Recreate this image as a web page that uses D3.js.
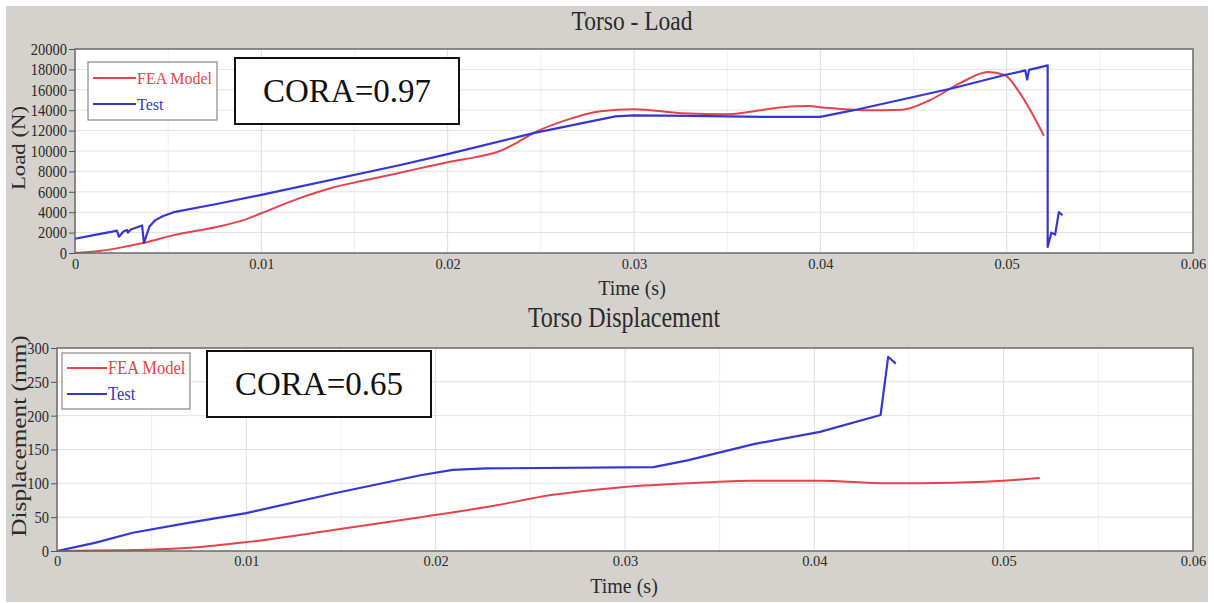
<!DOCTYPE html>
<html>
<head>
<meta charset="utf-8">
<script src="https://cdn.jsdelivr.net/npm/d3@7"></script>
<style>
  body { margin: 0; background: #fff; }
  svg { display: block; font-family: "Liberation Serif", "DejaVu Serif", serif; }
</style>
</head>
<body>
<svg id="chart" width="1214" height="603"></svg>
<script>
// time ticks shared by both panels
var timeTicks = [0, 0.01, 0.02, 0.03, 0.04, 0.05, 0.06];
var timeTickLabels = ["0", "0.01", "0.02", "0.03", "0.04", "0.05", "0.06"];

// Torso - Load
var loadTicks = [0, 2000, 4000, 6000, 8000, 10000, 12000, 14000, 16000, 18000, 20000];
var loadFeaT = [0, 0.0013, 0.0025, 0.0037, 0.0053, 0.0076, 0.009, 0.01, 0.0121, 0.0138, 0.0155, 0.0174, 0.02, 0.0215, 0.0228, 0.0237, 0.0246, 0.0264, 0.0282, 0.03, 0.0326, 0.035, 0.038, 0.0394, 0.04, 0.0423, 0.0444, 0.0459, 0.0475, 0.049, 0.0499, 0.0507, 0.052];
var loadFeaV = [0, 200, 550, 1000, 1750, 2550, 3200, 3900, 5400, 6400, 7100, 7850, 8900, 9400, 10000, 10800, 11750, 13050, 13900, 14100, 13700, 13600, 14300, 14400, 14300, 14000, 14050, 15000, 16650, 17750, 17450, 15700, 11500];
var loadTestT = [0, 0.001, 0.002, 0.00225, 0.00236, 0.0026, 0.0028, 0.00284, 0.003, 0.0036, 0.0037, 0.004, 0.0043, 0.0047, 0.0053, 0.0076, 0.01, 0.0174, 0.02, 0.0246, 0.029, 0.03, 0.033, 0.037, 0.04, 0.0418, 0.0471, 0.0499, 0.051, 0.0511, 0.0512, 0.0522, 0.0522, 0.0524, 0.0526, 0.0528, 0.053];
var loadTestV = [1400, 1750, 2100, 2200, 1600, 2100, 2250, 2000, 2300, 2700, 1000, 2600, 3200, 3600, 4000, 4800, 5700, 8600, 9700, 11750, 13400, 13500, 13450, 13350, 13350, 14000, 16150, 17450, 17900, 17000, 17950, 18400, 600, 2000, 1800, 4000, 3700];

// Torso Displacement
var dispTicks = [0, 50, 100, 150, 200, 250, 300];
var dispFeaT = [0, 0.003, 0.0058, 0.0076, 0.01, 0.0146, 0.0192, 0.0227, 0.0262, 0.0297, 0.0333, 0.0368, 0.0403, 0.0438, 0.0473, 0.05, 0.0519];
var dispFeaV = [0, 1, 3, 6, 13, 31, 50, 65, 83, 94, 100, 104, 104, 100, 101, 104, 108];
var dispTestT = [0, 0.002, 0.004, 0.007, 0.01, 0.0146, 0.0192, 0.0209, 0.0227, 0.0315, 0.0333, 0.0368, 0.0403, 0.0435, 0.0439, 0.0443];
var dispTestV = [0, 12, 27, 42, 56, 85, 112, 120, 122, 124, 134, 158, 176, 201, 287, 277];

var seriesNames = ["FEA Model", "Test"];
var feaColor = "#e4434c";
var testColor = "#3636d0";
var textColor = "#2a2a2a";

var svg = d3.select("#chart");

svg.append("rect")
    .attr("x", 6).attr("y", 6)
    .attr("width", 1202).attr("height", 596)
    .attr("fill", "#d5d2cd");

function zip(ts, vs) {
    return ts.map(function (t, i) { return [t, vs[i]]; });
}

// the screenshot is a bit taller than wide, so text gets stretched
function label(g, x, y, txt, size, sx, sy, rot) {
    return g.append("text")
        .attr("transform", "translate(" + x + "," + y + ")" + (rot ? " rotate(-90)" : "") +
            " scale(" + sx + "," + sy + ")")
        .attr("font-size", size).attr("fill", textColor)
        .text(txt);
}

function drawPanel(p) {
    var x = d3.scaleLinear().domain([0, 0.06]).range([p.left, p.right]);
    var y = d3.scaleLinear().domain([0, p.yMax]).range([p.bottom, p.top]);
    var g = svg.append("g");

    g.append("rect")
        .attr("x", p.left).attr("y", p.top)
        .attr("width", p.right - p.left).attr("height", p.bottom - p.top)
        .attr("fill", "#fff");

    // minor vertical grid
    var minor = d3.range(0.005, 0.06, 0.01);
    g.selectAll(".vminor").data(minor).enter().append("line")
        .attr("x1", function (d) { return x(d); }).attr("x2", function (d) { return x(d); })
        .attr("y1", p.top).attr("y2", p.bottom)
        .attr("stroke", "#efefef").attr("stroke-width", 1);
    g.selectAll(".vmajor").data(timeTicks.slice(1, -1)).enter().append("line")
        .attr("x1", function (d) { return x(d); }).attr("x2", function (d) { return x(d); })
        .attr("y1", p.top).attr("y2", p.bottom)
        .attr("stroke", "#dcdcdc").attr("stroke-width", 1);
    g.selectAll(".hgrid").data(p.yTicks.slice(1, -1)).enter().append("line")
        .attr("x1", p.left).attr("x2", p.right)
        .attr("y1", function (d) { return y(d); }).attr("y2", function (d) { return y(d); })
        .attr("stroke", "#e2e2e2").attr("stroke-width", 1);

    var feaLine = d3.line()
        .x(function (d) { return x(d[0]); })
        .y(function (d) { return y(d[1]); })
        .curve(d3.curveMonotoneX);
    var testLine = d3.line()
        .x(function (d) { return x(d[0]); })
        .y(function (d) { return y(d[1]); });

    g.append("path")
        .attr("d", feaLine(zip(p.feaT, p.feaV)))
        .attr("fill", "none").attr("stroke", feaColor).attr("stroke-width", 2);
    g.append("path")
        .attr("d", testLine(zip(p.testT, p.testV)))
        .attr("fill", "none").attr("stroke", testColor).attr("stroke-width", 2.2)
        .attr("stroke-linejoin", "round");

    g.append("rect")
        .attr("x", p.left).attr("y", p.top)
        .attr("width", p.right - p.left).attr("height", p.bottom - p.top)
        .attr("fill", "none").attr("stroke", "#6a6a6a").attr("stroke-width", 1.5);

    // axes
    var xAxis = g.append("g")
        .attr("transform", "translate(0," + p.bottom + ")")
        .call(d3.axisBottom(x).tickValues(timeTicks)
            .tickFormat(function (d, i) { return timeTickLabels[i]; })
            .tickSize(0).tickPadding(p.xTickPad));
    var yAxis = g.append("g")
        .attr("transform", "translate(" + p.left + ",0)")
        .call(d3.axisLeft(y).tickValues(p.yTicks).tickFormat(d3.format("d"))
            .tickSize(6).tickPadding(2));
    [xAxis, yAxis].forEach(function (a) {
        a.select(".domain").remove();
        a.selectAll("text")
            .attr("font-family", "Liberation Serif, serif")
            .attr("font-size", 14.5).attr("fill", textColor);
        a.selectAll("line").attr("stroke", "#555");
    });
    yAxis.selectAll(".tick text").attr("transform", "scale(1,1.15)");

    label(g, p.titleX, p.titleY, p.title, p.titleSize, 1, 1.2, false).attr("text-anchor", "middle");
    label(g, p.titleX, p.xLabelY, "Time (s)", 20, 1, 1.1, false).attr("text-anchor", "middle");
    label(g, p.yLabelX, p.yLabelY, p.yLabel, p.yLabelSize, p.yLabelStretch, 1, true).attr("text-anchor", "middle");

    // legend
    var lg = p.legend;
    g.append("rect")
        .attr("x", lg.x).attr("y", lg.y).attr("width", lg.w).attr("height", lg.h)
        .attr("fill", "#fff").attr("stroke", "#888").attr("stroke-width", 1.2);
    [feaColor, testColor].forEach(function (c, i) {
        var yy = lg.y + lg.first + i * 26;
        g.append("line")
            .attr("x1", lg.x + 5).attr("x2", lg.x + 5 + lg.line)
            .attr("y1", yy).attr("y2", yy)
            .attr("stroke", c).attr("stroke-width", 2);
        label(g, lg.x + 6 + lg.line, yy + 6, seriesNames[i], lg.size, 1, 1.1, false)
            .attr("fill", c);
    });

    // CORA box
    var cb = p.cora;
    g.append("rect")
        .attr("x", cb.x).attr("y", cb.y).attr("width", cb.w).attr("height", cb.h)
        .attr("fill", "#fff").attr("stroke", "#111").attr("stroke-width", 2);
    g.append("text")
        .attr("x", cb.x + cb.w / 2).attr("y", cb.base)
        .attr("text-anchor", "middle").attr("font-size", cb.size).attr("fill", "#111")
        .text(cb.text);
}

drawPanel({
    left: 75, right: 1193, top: 49, bottom: 253,
    yMax: 20000, yTicks: loadTicks, xTickPad: 6,
    feaT: loadFeaT, feaV: loadFeaV, testT: loadTestT, testV: loadTestV,
    title: "Torso - Load", titleSize: 23.5, titleX: 632, titleY: 30, xLabelY: 295,
    yLabel: "Load (N)", yLabelSize: 19, yLabelStretch: 1.2, yLabelX: 25, yLabelY: 148,
    legend: { x: 88, y: 62, w: 129, h: 58, line: 43, first: 16, size: 16 },
    cora: { x: 235, y: 58, w: 224, h: 66, size: 33, base: 102, text: "CORA=0.97" }
});

drawPanel({
    left: 57, right: 1193, top: 348, bottom: 551,
    yMax: 300, yTicks: dispTicks, xTickPad: 5,
    feaT: dispFeaT, feaV: dispFeaV, testT: dispTestT, testV: dispTestV,
    title: "Torso Displacement", titleSize: 24, titleX: 624, titleY: 327, xLabelY: 593,
    yLabel: "Displacement (mm)", yLabelSize: 22, yLabelStretch: 1.15, yLabelX: 26, yLabelY: 436,
    legend: { x: 62, y: 353, w: 128, h: 56, line: 40, first: 15, size: 16.5 },
    cora: { x: 207, y: 351, w: 224, h: 66, size: 33, base: 395, text: "CORA=0.65" }
});
</script>
</body>
</html>
